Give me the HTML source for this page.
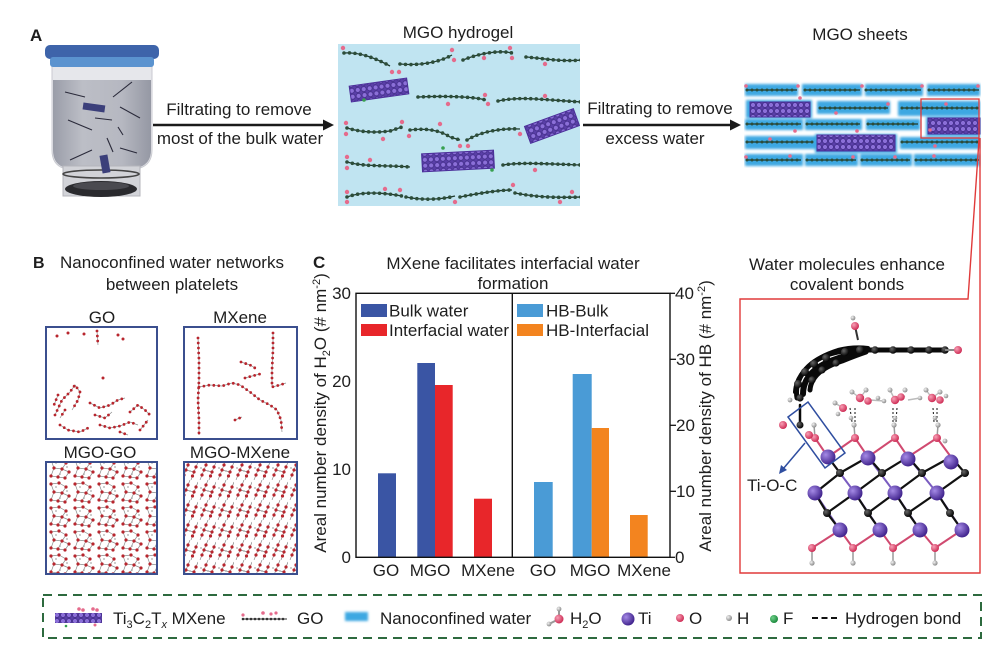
<!DOCTYPE html>
<html>
<head>
<meta charset="utf-8">
<style>
  html,body{margin:0;padding:0;background:#fff;}
  svg{display:block;}
  text{font-family:"Liberation Sans",Arial,sans-serif;fill:#1e1e1e;}
  .t17{font-size:17px;}
  .lbl{font-size:16px;font-weight:bold;}
  .bond{fill:none;stroke:#1f3a2c;stroke-width:1.3;}
  .bead{fill:none;stroke:#2c4d3a;stroke-width:3.6;stroke-linecap:round;stroke-dasharray:0 5.5;}
  .po{fill:#e56b8c;}
  .rb{fill:none;stroke:#8c8c8c;stroke-width:0.7;}
  .rd{fill:none;stroke:#b8262e;stroke-width:2.8;stroke-linecap:round;stroke-dasharray:0 5;}
</style>
</head>
<body>
<svg width="998" height="651" viewBox="0 0 998 651" xmlns="http://www.w3.org/2000/svg">
<defs>
  <pattern id="mx" width="6" height="6" patternUnits="userSpaceOnUse">
    <rect width="6" height="6" fill="#5a3fa8"/>
    <circle cx="3" cy="3" r="2.5" fill="#8b6fd8" stroke="#3f2a85" stroke-width="0.7"/>
  </pattern>
  <pattern id="net1" width="24" height="24" patternUnits="userSpaceOnUse">
    <path d="M3,4 L11,3 L18,7 M3,4 L6,12 L14,13 L18,7 M14,13 L21,16 M6,12 L3,20 L10,21 L17,22 L21,16 M14,13 L10,21" stroke="#8a8a8a" stroke-width="0.7" fill="none"/>
    <g fill="#b8262e">
      <circle cx="3" cy="4" r="1.6"/><circle cx="11" cy="3" r="1.6"/><circle cx="18" cy="7" r="1.6"/>
      <circle cx="6" cy="12" r="1.6"/><circle cx="14" cy="13" r="1.6"/><circle cx="21" cy="16" r="1.6"/>
      <circle cx="3" cy="20" r="1.6"/><circle cx="10" cy="21" r="1.6"/><circle cx="17" cy="22" r="1.6"/>
    </g>
    <g fill="#aaa"><circle cx="8" cy="7" r="0.9"/><circle cx="19" cy="11" r="0.9"/><circle cx="12" cy="18" r="0.9"/></g>
  </pattern>
  <pattern id="net2" width="18" height="20" patternUnits="userSpaceOnUse">
    <path d="M2,20 L6,10 L10,0 M11,20 L14,12 L18,2 M6,10 L14,12" stroke="#8a8a8a" stroke-width="0.7" fill="none"/>
    <g fill="#b8262e">
      <circle cx="4" cy="15" r="1.6"/><circle cx="6" cy="10" r="1.6"/><circle cx="8" cy="5" r="1.6"/>
      <circle cx="12.5" cy="16" r="1.6"/><circle cx="14" cy="12" r="1.6"/><circle cx="16" cy="7" r="1.6"/>
    </g>
    <g fill="#aaa"><circle cx="10" cy="11" r="0.9"/><circle cx="3" cy="8" r="0.9"/></g>
  </pattern>
  <filter id="glow" x="-10%" y="-30%" width="120%" height="160%"><feGaussianBlur stdDeviation="1.3"/></filter>
  <radialGradient id="gTi" cx="35%" cy="35%" r="65%"><stop offset="0" stop-color="#a58ae6"/><stop offset="1" stop-color="#43268f"/></radialGradient>
  <radialGradient id="gO" cx="35%" cy="35%" r="65%"><stop offset="0" stop-color="#f7a0b6"/><stop offset="1" stop-color="#cf2f57"/></radialGradient>
  <radialGradient id="gH" cx="35%" cy="35%" r="65%"><stop offset="0" stop-color="#f2f2f2"/><stop offset="1" stop-color="#8d8d8d"/></radialGradient>
  <radialGradient id="gC" cx="35%" cy="35%" r="65%"><stop offset="0" stop-color="#666"/><stop offset="1" stop-color="#050505"/></radialGradient>
  <radialGradient id="gF" cx="35%" cy="35%" r="65%"><stop offset="0" stop-color="#6fd08a"/><stop offset="1" stop-color="#1d8a3e"/></radialGradient>
  <linearGradient id="liq" x1="0" x2="1" y1="0" y2="0">
    <stop offset="0" stop-color="#9a9da8"/><stop offset="0.3" stop-color="#bcbec6"/><stop offset="0.7" stop-color="#b6b8c1"/><stop offset="1" stop-color="#9598a4"/>
  </linearGradient>
  <clipPath id="hgClip"><rect x="338" y="44" width="242" height="162"/></clipPath>
  <clipPath id="shClip"><rect x="744" y="80" width="237" height="88"/></clipPath>
</defs>

<!-- ================= PANEL A ================= -->
<text class="lbl" x="30" y="41" style="font-size:17px">A</text>

<!-- beaker -->
<g>
  <path d="M52,66 L152,66 L152,150 Q152,164 140,168 L63,168 Q52,164 52,150 Z" fill="#e6e7eb" stroke="#c9cad0" stroke-width="1"/>
  <path d="M53,80 L151,80 L151,150 Q151,163 140,167 L63,167 Q53,163 53,150 Z" fill="url(#liq)"/>
  <rect x="63" y="166" width="77" height="30" fill="#d2d3d8" stroke="#b4b5bb" stroke-width="1"/>
  <ellipse cx="101" cy="174" rx="38" ry="4" fill="none" stroke="#444" stroke-width="1.6"/>
  <ellipse cx="101" cy="189" rx="36" ry="8" fill="#2a2a2e"/>
  <ellipse cx="101" cy="186" rx="28" ry="4" fill="#4a4a50"/>
  <rect x="45" y="45" width="114" height="14" rx="5" fill="#3e64aa"/>
  <rect x="50" y="57" width="104" height="10" rx="3" fill="#5b93cf"/>
  <g stroke="#2a2a3a" stroke-width="1.1" fill="none">
    <path d="M65,92 L85,97"/><path d="M113,97 L132,82"/><path d="M95,118 L112,120"/>
    <path d="M120,107 L140,118"/><path d="M68,120 L92,130"/><path d="M118,127 L123,135"/>
    <path d="M107,138 L113,152"/><path d="M120,148 L137,153"/><path d="M70,160 L92,150"/>
  </g>
  <rect x="83" y="104" width="22" height="7" fill="#3b3f7a" transform="rotate(8 94 107)"/>
  <rect x="101" y="155" width="8" height="18" fill="#3b3f7a" transform="rotate(-10 105 164)"/>
</g>

<!-- arrow 1 -->
<line x1="153" y1="125" x2="326" y2="125" stroke="#1a1a1a" stroke-width="2.5"/>
<path d="M323,119.5 L334,125 L323,130.5 Z" fill="#1a1a1a"/>
<text class="t17" x="239" y="115" text-anchor="middle">Filtrating to remove</text>
<text class="t17" x="240" y="144" text-anchor="middle">most of the bulk water</text>

<!-- hydrogel -->
<text class="t17" x="458" y="38" text-anchor="middle">MGO hydrogel</text>
<rect x="338" y="44" width="242" height="162" fill="#c0e4f1"/>
<g clip-path="url(#hgClip)">
  <g>
    <path class="bond" d="M344,53 C360,52 375,58 390,66"/><path class="bead" d="M344,53 C360,52 375,58 390,66"/>
    <path class="bond" d="M400,64 C420,66 440,62 452,55"/><path class="bead" d="M400,64 C420,66 440,62 452,55"/>
    <path class="bond" d="M463,60 C480,53 500,50 512,53"/><path class="bead" d="M463,60 C480,53 500,50 512,53"/>
    <path class="bond" d="M526,57 C540,58 560,62 582,60"/><path class="bead" d="M526,57 C540,58 560,62 582,60"/>
    <path class="bond" d="M418,97 C440,96 470,96 486,100"/><path class="bead" d="M418,97 C440,96 470,96 486,100"/>
    <path class="bond" d="M498,101 C520,96 545,100 582,102"/><path class="bead" d="M498,101 C520,96 545,100 582,102"/>
    <path class="bond" d="M347,128 C360,132 375,133 390,131 L402,127"/><path class="bead" d="M347,128 C360,132 375,133 390,131 L402,127"/>
    <path class="bond" d="M410,130 C425,128 440,130 450,137 L460,140"/><path class="bead" d="M410,130 C425,128 440,130 450,137 L460,140"/>
    <path class="bond" d="M467,140 C480,132 500,128 520,129"/><path class="bead" d="M467,140 C480,132 500,128 520,129"/>
    <path class="bond" d="M347,162 C365,167 385,165 410,167"/><path class="bead" d="M347,162 C365,167 385,165 410,167"/>
    <path class="bond" d="M503,165 C520,162 550,164 582,165"/><path class="bead" d="M503,165 C520,162 550,164 582,165"/>
    <path class="bond" d="M347,197 C360,192 380,192 402,196"/><path class="bead" d="M347,197 C360,192 380,192 402,196"/>
    <path class="bond" d="M406,197 C420,200 440,200 455,196"/><path class="bead" d="M406,197 C420,200 440,200 455,196"/>
    <path class="bond" d="M460,197 C480,193 500,190 512,190"/><path class="bead" d="M460,197 C480,193 500,190 512,190"/>
    <path class="bond" d="M515,193 C535,197 555,198 582,197"/><path class="bead" d="M515,193 C535,197 555,198 582,197"/>
  </g>
  <g class="po">
    <circle cx="343" cy="48" r="2.2"/><circle cx="392" cy="72" r="2.2"/><circle cx="399" cy="72" r="2.2"/>
    <circle cx="452" cy="50" r="2.2"/><circle cx="454" cy="60" r="2.2"/><circle cx="484" cy="58" r="2.2"/>
    <circle cx="510" cy="48" r="2.2"/><circle cx="512" cy="58" r="2.2"/><circle cx="545" cy="64" r="2.2"/>
    <circle cx="485" cy="95" r="2.2"/><circle cx="488" cy="104" r="2.2"/><circle cx="448" cy="104" r="2.2"/>
    <circle cx="545" cy="96" r="2.2"/><circle cx="346" cy="123" r="2.2"/><circle cx="346" cy="134" r="2.2"/>
    <circle cx="383" cy="139" r="2.2"/><circle cx="402" cy="122" r="2.2"/><circle cx="409" cy="136" r="2.2"/>
    <circle cx="440" cy="124" r="2.2"/><circle cx="460" cy="146" r="2.2"/><circle cx="468" cy="146" r="2.2"/>
    <circle cx="520" cy="134" r="2.2"/><circle cx="347" cy="157" r="2.2"/><circle cx="347" cy="168" r="2.2"/>
    <circle cx="370" cy="160" r="2.2"/><circle cx="535" cy="170" r="2.2"/><circle cx="347" cy="192" r="2.2"/>
    <circle cx="347" cy="202" r="2.2"/><circle cx="385" cy="189" r="2.2"/><circle cx="400" cy="190" r="2.2"/>
    <circle cx="455" cy="202" r="2.2"/><circle cx="513" cy="185" r="2.2"/><circle cx="560" cy="202" r="2.2"/>
    <circle cx="572" cy="192" r="2.2"/>
  </g>
  <g transform="translate(379,90) rotate(-8)"><rect x="-29" y="-8" width="58" height="16" fill="url(#mx)" stroke="#4b2f99" stroke-width="1"/></g>
  <g transform="translate(552,126) rotate(-20)"><rect x="-26" y="-9" width="52" height="18" fill="url(#mx)" stroke="#4b2f99" stroke-width="1"/></g>
  <g transform="translate(458,161) rotate(-3)"><rect x="-36" y="-9" width="72" height="18" fill="url(#mx)" stroke="#4b2f99" stroke-width="1"/></g>
  <circle cx="364" cy="100" r="1.8" fill="#38a050"/><circle cx="443" cy="148" r="1.8" fill="#38a050"/><circle cx="492" cy="170" r="1.8" fill="#38a050"/>
</g>

<!-- arrow 2 -->
<line x1="583" y1="125" x2="733" y2="125" stroke="#1a1a1a" stroke-width="2.5"/>
<path d="M730,119.5 L741,125 L730,130.5 Z" fill="#1a1a1a"/>
<text class="t17" x="660" y="114" text-anchor="middle">Filtrating to remove</text>
<text class="t17" x="655" y="144" text-anchor="middle">excess water</text>

<!-- sheets -->
<text class="t17" x="860" y="40" text-anchor="middle">MGO sheets</text>
<g clip-path="url(#shClip)">
  <g fill="#3ea8e2" filter="url(#glow)">
    <rect x="745" y="84" width="53" height="12"/><rect x="802" y="84" width="60" height="12"/>
    <rect x="865" y="84" width="58" height="12"/><rect x="927" y="84" width="53" height="12"/>
    <rect x="746" y="100" width="66" height="18"/><rect x="817" y="101" width="73" height="13"/>
    <rect x="898" y="101" width="82" height="15"/>
    <rect x="745" y="119" width="58" height="11"/><rect x="805" y="119" width="57" height="11"/>
    <rect x="866" y="119" width="54" height="11"/><rect x="926" y="117" width="54" height="19"/>
    <rect x="745" y="136" width="70" height="13"/><rect x="815" y="134" width="82" height="19"/>
    <rect x="900" y="137" width="80" height="12"/>
    <rect x="745" y="154" width="58" height="12"/><rect x="805" y="154" width="53" height="12"/>
    <rect x="860" y="154" width="52" height="12"/><rect x="914" y="154" width="66" height="12"/>
  </g>
  <g>
    <path class="bond" d="M747,90 L797,90 M805,90 L860,90 M866,90 L921,90 M929,90 L979,90 M820,108 L888,108 M902,108 L979,108 M747,124 L801,124 M807,124 L860,124 M868,124 L918,124 M747,142 L813,142 M902,142 L979,142 M747,160 L801,160 M807,160 L856,160 M862,160 L910,160 M916,160 L979,160"/>
    <path class="bead" style="stroke-width:3;stroke-dasharray:0 5" d="M747,90 L797,90 M805,90 L860,90 M866,90 L921,90 M929,90 L979,90 M820,108 L888,108 M902,108 L979,108 M747,124 L801,124 M807,124 L860,124 M868,124 L918,124 M747,142 L813,142 M902,142 L979,142 M747,160 L801,160 M807,160 L856,160 M862,160 L910,160 M916,160 L979,160"/>
  </g>
  <rect x="750" y="102" width="60" height="15" fill="url(#mx)" stroke="#4b2f99" stroke-width="1"/>
  <rect x="928" y="118" width="52" height="16" fill="url(#mx)" stroke="#4b2f99" stroke-width="1"/>
  <rect x="817" y="135" width="78" height="16" fill="url(#mx)" stroke="#4b2f99" stroke-width="1"/>
  <g class="po">
    <circle cx="746" cy="86" r="1.8"/><circle cx="798" cy="86" r="1.8"/><circle cx="800" cy="98" r="1.8"/>
    <circle cx="862" cy="86" r="1.8"/><circle cx="922" cy="86" r="1.8"/><circle cx="978" cy="86" r="1.8"/>
    <circle cx="888" cy="104" r="1.8"/><circle cx="836" cy="113" r="1.8"/><circle cx="946" cy="104" r="1.8"/>
    <circle cx="795" cy="131" r="1.8"/><circle cx="857" cy="131" r="1.8"/><circle cx="930" cy="130" r="1.8"/>
    <circle cx="770" cy="139" r="1.8"/><circle cx="935" cy="146" r="1.8"/><circle cx="746" cy="157" r="1.8"/>
    <circle cx="790" cy="156" r="1.8"/><circle cx="853" cy="157" r="1.8"/><circle cx="895" cy="157" r="1.8"/>
    <circle cx="934" cy="156" r="1.8"/>
  </g>
</g>
<rect x="921" y="99" width="58" height="39" fill="none" stroke="#e03a3a" stroke-width="1.3"/>

<!-- connector lines -->
<polyline points="979,138 978,155 968,299 740,299 740,573 980,573 980,138" fill="none" stroke="#e03a3a" stroke-width="1.4"/>

<!-- ================= PANEL B ================= -->
<text class="lbl" x="33" y="268">B</text>
<text class="t17" x="172" y="268" text-anchor="middle">Nanoconfined water networks</text>
<text class="t17" x="172" y="290" text-anchor="middle">between platelets</text>
<text class="t17" x="102" y="323" text-anchor="middle">GO</text>
<text class="t17" x="240" y="323" text-anchor="middle">MXene</text>
<text class="t17" x="100" y="458" text-anchor="middle">MGO-GO</text>
<text class="t17" x="240" y="458" text-anchor="middle">MGO-MXene</text>

<!-- GO box -->
<g>
  <rect x="46" y="327" width="111" height="112" fill="#fff"/>
  <g>
    <path class="rb" d="M97,331 L98,345 M55,415 L62,400 L70,392 L75,385 L80,392 L78,400 L72,410 M60,425 L68,430 L80,432 L88,428 M90,403 L100,408 L110,405 L118,400 L125,398 M95,415 L105,418 L112,412 M100,425 L110,428 L120,426 L130,422 L138,425 M120,432 L128,435 M130,412 L138,405 L145,410 L150,415 M140,430 L148,420 M58,395 L54,405 M65,410 L60,418"/>
    <path class="rd" d="M97,331 L98,345 M55,415 L62,400 L70,392 L75,385 L80,392 L78,400 L72,410 M60,425 L68,430 L80,432 L88,428 M90,403 L100,408 L110,405 L118,400 L125,398 M95,415 L105,418 L112,412 M100,425 L110,428 L120,426 L130,422 L138,425 M120,432 L128,435 M130,412 L138,405 L145,410 L150,415 M140,430 L148,420 M58,395 L54,405 M65,410 L60,418"/>
    <g fill="#b8262e"><circle cx="57" cy="336" r="1.5"/><circle cx="68" cy="333" r="1.5"/><circle cx="84" cy="334" r="1.5"/><circle cx="118" cy="335" r="1.5"/><circle cx="123" cy="339" r="1.5"/><circle cx="103" cy="378" r="1.5"/></g>
  </g>
  <rect x="46" y="327" width="111" height="112" fill="none" stroke="#3b4f8e" stroke-width="2"/>
</g>
<!-- MXene box -->
<g>
  <rect x="184" y="327" width="113" height="112" fill="#fff"/>
  <path class="rb" d="M198,338 L199,360 L199,380 L198,400 L199,420 L199,435 M199,387 L210,385 L222,386 L232,383 L240,385 L250,392 L260,400 L270,405 L277,410 L281,420 L282,432 M273,333 L273,350 L272,370 L272,387 L280,385 L286,383 M241,362 L250,365 L255,368 M245,378 L252,376 L260,374 M235,420 L242,417"/>
  <path class="rd" d="M198,338 L199,360 L199,380 L198,400 L199,420 L199,435 M199,387 L210,385 L222,386 L232,383 L240,385 L250,392 L260,400 L270,405 L277,410 L281,420 L282,432 M273,333 L273,350 L272,370 L272,387 L280,385 L286,383 M241,362 L250,365 L255,368 M245,378 L252,376 L260,374 M235,420 L242,417"/>
  <rect x="184" y="327" width="113" height="112" fill="none" stroke="#3b4f8e" stroke-width="2"/>
</g>
<!-- MGO-GO box -->
<rect x="46" y="462" width="111" height="112" fill="url(#net1)" stroke="#3b4f8e" stroke-width="2"/>
<!-- MGO-MXene box -->
<rect x="184" y="462" width="113" height="112" fill="url(#net2)" stroke="#3b4f8e" stroke-width="2"/>

<!-- ================= PANEL C ================= -->
<text class="lbl" x="313" y="268" style="font-size:17px">C</text>
<text class="t17" x="513" y="269" text-anchor="middle">MXene facilitates interfacial water</text>
<text class="t17" x="513" y="289" text-anchor="middle">formation</text>

<!-- bars -->
<rect x="378" y="473.3" width="18" height="84" fill="#3a55a4"/>
<rect x="417.3" y="363" width="17.7" height="194.3" fill="#3a55a4"/>
<rect x="435" y="385" width="17.7" height="172.3" fill="#e8262a"/>
<rect x="474" y="498.7" width="18" height="58.6" fill="#e8262a"/>
<rect x="534" y="482" width="18.7" height="75.3" fill="#4a9bd6"/>
<rect x="572.7" y="374" width="19" height="183.3" fill="#4a9bd6"/>
<rect x="591.7" y="428" width="17.3" height="129.3" fill="#f3841f"/>
<rect x="630" y="515" width="17.7" height="42.3" fill="#f3841f"/>

<!-- axes -->
<rect x="356" y="293.3" width="314" height="264" fill="none" stroke="#111" stroke-width="1.4"/>
<line x1="512.3" y1="293.3" x2="512.3" y2="557.3" stroke="#111" stroke-width="1.4"/>
<g stroke="#111" stroke-width="1.3">
  <line x1="670" y1="359.3" x2="676" y2="359.3"/><line x1="670" y1="425.3" x2="676" y2="425.3"/><line x1="670" y1="491.3" x2="676" y2="491.3"/>
  <line x1="670" y1="293.3" x2="675" y2="293.3"/><line x1="670" y1="557.3" x2="675" y2="557.3"/>
</g>
<text class="t17" x="351" y="299" text-anchor="end">30</text>
<text class="t17" x="351" y="387" text-anchor="end">20</text>
<text class="t17" x="351" y="475" text-anchor="end">10</text>
<text class="t17" x="351" y="563" text-anchor="end">0</text>
<text class="t17" x="675" y="299">40</text>
<text class="t17" x="676" y="365">30</text>
<text class="t17" x="676" y="431">20</text>
<text class="t17" x="676" y="497">10</text>
<text class="t17" x="675" y="563">0</text>

<text class="t17" x="386" y="576" text-anchor="middle">GO</text>
<text class="t17" x="430" y="576" text-anchor="middle">MGO</text>
<text class="t17" x="488" y="576" text-anchor="middle">MXene</text>
<text class="t17" x="543" y="576" text-anchor="middle">GO</text>
<text class="t17" x="590" y="576" text-anchor="middle">MGO</text>
<text class="t17" x="644" y="576" text-anchor="middle">MXene</text>

<!-- legend C -->
<rect x="361" y="304" width="26" height="13" fill="#3a55a4"/>
<rect x="361" y="324" width="26" height="12" fill="#e8262a"/>
<text class="t17" x="389" y="316.5">Bulk water</text>
<text class="t17" x="389" y="336">Interfacial water</text>
<rect x="517" y="304" width="26" height="13" fill="#4a9bd6"/>
<rect x="517" y="324" width="26" height="12" fill="#f3841f"/>
<text class="t17" x="546" y="316.5">HB-Bulk</text>
<text class="t17" x="546" y="336">HB-Interfacial</text>

<!-- axis labels -->
<text class="t17" transform="translate(326,413) rotate(-90)" text-anchor="middle">Areal number density of H<tspan dy="4" font-size="11">2</tspan><tspan dy="-4">O (# nm</tspan><tspan dy="-6" font-size="11">-2</tspan><tspan dy="6">)</tspan></text>
<text class="t17" transform="translate(711,416) rotate(-90)" text-anchor="middle">Areal number density of HB  (# nm<tspan dy="-6" font-size="11">-2</tspan><tspan dy="6">)</tspan></text>

<!-- ================= PANEL D ================= -->
<text class="t17" x="847" y="270" text-anchor="middle">Water molecules enhance</text>
<text class="t17" x="847" y="290" text-anchor="middle">covalent bonds</text>

<g>
  <!-- lattice bonds -->
  <g stroke="#7a5cc0" stroke-width="2" fill="none">
    <path d="M828,457 L855,493 M868,457 L895,493 M908,457 L937,493 M815,493 L840,530 M855,493 L880,530 M895,493 L920,530 M937,493 L962,530"/>
  </g>
  <g stroke="#d04a70" stroke-width="2" fill="none">
    <path d="M815,438 L828,457 M855,438 L828,457 M855,438 L868,457 M895,438 L868,457 M895,438 L908,457 M937,438 L908,457 M937,438 L951,457"/>
    <path d="M812,548 L840,530 M853,548 L840,530 M853,548 L880,530 M893,548 L880,530 M893,548 L920,530 M935,548 L920,530 M935,548 L962,530"/>
  </g>
  <g stroke="#111" stroke-width="2.2" fill="none">
    <path d="M828,457 L840,473 L815,493 M840,473 L868,457 M868,457 L882,473 L855,493 M882,473 L908,457 M908,457 L922,473 L895,493 M922,473 L951,457 M951,457 L965,473 L937,493"/>
    <path d="M815,493 L827,513 L840,530 M827,513 L855,493 M855,493 L868,513 L880,530 M868,513 L895,493 M895,493 L908,513 L920,530 M908,513 L937,493 M937,493 L950,513 L962,530"/>
  </g>
  <g stroke="#9a9a9a" stroke-width="1.5" fill="none">
    <path d="M815,438 L814,425 M855,438 L854,425 M895,438 L894,425 M937,438 L938,425 M812,548 L812,563 M853,548 L853,563 M893,548 L893,563 M935,548 L935,563"/>
  </g>
  <!-- atoms -->
  <g fill="url(#gC)">
    <circle cx="840" cy="473" r="4"/><circle cx="882" cy="473" r="4"/><circle cx="922" cy="473" r="4"/><circle cx="965" cy="473" r="4"/>
    <circle cx="827" cy="513" r="4"/><circle cx="868" cy="513" r="4"/><circle cx="908" cy="513" r="4"/><circle cx="950" cy="513" r="4"/>
  </g>
  <g fill="url(#gTi)">
    <circle cx="828" cy="457" r="7.5"/><circle cx="868" cy="458" r="7.5"/><circle cx="908" cy="459" r="7.5"/><circle cx="951" cy="462" r="7.5"/>
    <circle cx="815" cy="493" r="7.5"/><circle cx="855" cy="493" r="7.5"/><circle cx="895" cy="493" r="7.5"/><circle cx="937" cy="493" r="7.5"/>
    <circle cx="840" cy="530" r="7.5"/><circle cx="880" cy="530" r="7.5"/><circle cx="920" cy="530" r="7.5"/><circle cx="962" cy="530" r="7.5"/>
  </g>
  <g fill="url(#gO)">
    <circle cx="815" cy="438" r="4"/><circle cx="855" cy="438" r="4"/><circle cx="895" cy="438" r="4"/><circle cx="937" cy="438" r="4"/>
    <circle cx="812" cy="548" r="4"/><circle cx="853" cy="548" r="4"/><circle cx="893" cy="548" r="4"/><circle cx="935" cy="548" r="4"/>
  </g>
  <g fill="url(#gH)">
    <circle cx="814" cy="425" r="2.6"/><circle cx="854" cy="425" r="2.6"/><circle cx="894" cy="425" r="2.6"/><circle cx="938" cy="425" r="2.6"/>
    <circle cx="945" cy="441" r="2.4"/>
    <circle cx="812" cy="563" r="2.6"/><circle cx="853" cy="563" r="2.6"/><circle cx="893" cy="563" r="2.6"/><circle cx="935" cy="563" r="2.6"/>
  </g>
  <!-- H-bond dashes -->
  <g stroke="#111" stroke-width="1" stroke-dasharray="2 2" fill="none">
    <path d="M850,408 L852,422 M855,408 L855,422 M893,408 L893,422 M897,408 L896,422 M933,408 L934,422 M937,408 L937,422"/>
  </g>
  <!-- water molecules -->
  <g stroke="#bbb" stroke-width="1.4" fill="none">
    <path d="M843,408 L835,403 M860,398 L866,390 M860,398 L852,392 M895,400 L890,390 M895,400 L905,396 M932,398 L926,390 M932,398 L940,392 M870,400 L884,401 M908,400 L920,398"/>
  </g>
  <g fill="url(#gO)">
    <circle cx="843" cy="408" r="4"/><circle cx="860" cy="398" r="4.2"/><circle cx="868" cy="401" r="3.8"/>
    <circle cx="895" cy="400" r="4.2"/><circle cx="901" cy="397" r="3.8"/><circle cx="932" cy="398" r="4.2"/><circle cx="940" cy="400" r="3.8"/>
  </g>
  <g fill="url(#gH)">
    <circle cx="835" cy="403" r="2.5"/><circle cx="866" cy="390" r="2.5"/><circle cx="852" cy="392" r="2.5"/><circle cx="838" cy="414" r="2.3"/>
    <circle cx="890" cy="390" r="2.5"/><circle cx="905" cy="390" r="2.5"/><circle cx="884" cy="401" r="2.3"/><circle cx="878" cy="398" r="2.3"/>
    <circle cx="926" cy="390" r="2.5"/><circle cx="940" cy="392" r="2.5"/><circle cx="946" cy="396" r="2.3"/><circle cx="920" cy="398" r="2.3"/>
    <circle cx="851" cy="418" r="2.3"/><circle cx="895" cy="418" r="2.3"/><circle cx="935" cy="418" r="2.3"/>
  </g>
  <!-- GO ribbon -->
  <g fill="none" stroke="#0a0a0a" stroke-linecap="round">
    <path d="M797,398 C794,380 806,362 830,354 C846,349 858,350 872,350 L945,350" stroke-width="5"/>
    <path d="M803,394 C803,378 815,366 836,359 C850,354 858,352 866,351" stroke-width="6"/>
    <path d="M810,390 C811,376 823,367 842,361 C852,357 860,354 866,352" stroke-width="5"/>
    <path d="M795,392 C796,374 812,358 838,350 C850,347 860,347 868,348" stroke-width="4"/>
    <path d="M800,405 L800,425" stroke-width="2.5"/>
  </g>
  <g fill="url(#gC)">
    <circle cx="875" cy="350" r="3.8"/><circle cx="893" cy="350" r="3.8"/><circle cx="911" cy="350" r="3.8"/><circle cx="929" cy="350" r="3.8"/><circle cx="945" cy="350" r="3.8"/>
    <circle cx="798" cy="384" r="4"/><circle cx="805" cy="372" r="4"/><circle cx="814" cy="364" r="4"/><circle cx="826" cy="358" r="4"/><circle cx="845" cy="352" r="4"/><circle cx="860" cy="350" r="4"/>
    <circle cx="812" cy="380" r="3.6"/><circle cx="822" cy="370" r="3.6"/><circle cx="836" cy="363" r="3.6"/>
    <circle cx="800" cy="398" r="3.6"/><circle cx="800" cy="425" r="3.5"/>
  </g>
  <line x1="956" y1="350" x2="945" y2="350" stroke="#888" stroke-width="2"/>
  <circle cx="958" cy="350" r="4" fill="url(#gO)"/>
  <line x1="858" y1="340" x2="855" y2="326" stroke="#333" stroke-width="2"/>
  <circle cx="855" cy="326" r="4" fill="url(#gO)"/>
  <circle cx="853" cy="318" r="2.4" fill="url(#gH)"/>
  <circle cx="783" cy="425" r="4" fill="url(#gO)"/>
  <circle cx="809" cy="435" r="4" fill="url(#gO)"/>
  <circle cx="790" cy="400" r="2.4" fill="url(#gH)"/>
  <!-- blue box & arrow -->
  <polygon points="788,417 808,402 845,453 825,468" fill="none" stroke="#2f4ea0" stroke-width="1.5"/>
  <line x1="805" y1="443" x2="783" y2="469" stroke="#2f4ea0" stroke-width="1.5"/>
  <path d="M779,474 L781,465 L787,470 Z" fill="#2f4ea0"/>
  <text class="t17" x="747" y="491">Ti-O-C</text>
</g>

<!-- ================= LEGEND ================= -->
<rect x="43" y="595" width="938" height="43" fill="none" stroke="#2d6a3e" stroke-width="2" stroke-dasharray="9 6"/>
<!-- MXene icon -->
<rect x="55" y="613" width="47" height="10" fill="url(#mx)"/>
<g class="po"><circle cx="79" cy="609" r="1.8"/><circle cx="83" cy="610" r="1.8"/><circle cx="93" cy="609" r="1.8"/><circle cx="97" cy="610" r="1.8"/><circle cx="95" cy="625" r="1.5"/></g>
<circle cx="66" cy="626" r="1.3" fill="#38a050"/>
<text class="t17" x="113" y="624">Ti<tspan dy="4" font-size="11">3</tspan><tspan dy="-4">C</tspan><tspan dy="4" font-size="11">2</tspan><tspan dy="-4">T</tspan><tspan dy="4" font-size="11" font-style="italic">x</tspan><tspan dy="-4"> MXene</tspan></text>
<!-- GO icon -->
<path d="M242,619 L287,619" stroke="#333" stroke-width="1"/>
<path d="M243,619 L287,619" stroke="#333" stroke-width="2.6" stroke-linecap="round" stroke-dasharray="0 4"/>
<g class="po"><circle cx="243" cy="615" r="1.6"/><circle cx="263" cy="613" r="1.8"/><circle cx="271" cy="614" r="1.6"/><circle cx="276" cy="613" r="1.6"/></g>
<text class="t17" x="297" y="624">GO</text>
<!-- Nanoconfined water -->
<rect x="345" y="612" width="23" height="9" fill="#3ea8e2" filter="url(#glow)"/>
<text class="t17" x="380" y="624">Nanoconfined water</text>
<!-- H2O -->
<path d="M559,619 L559,610 M559,619 L549,624" stroke="#999" stroke-width="2"/>
<circle cx="559" cy="609" r="2.4" fill="url(#gH)"/>
<circle cx="549" cy="624" r="2.4" fill="url(#gH)"/>
<circle cx="559" cy="619" r="4.5" fill="url(#gO)"/>
<text class="t17" x="570" y="624">H<tspan dy="4" font-size="11">2</tspan><tspan dy="-4">O</tspan></text>
<!-- Ti -->
<circle cx="628" cy="619" r="6.5" fill="url(#gTi)"/>
<text class="t17" x="638" y="624">Ti</text>
<!-- O -->
<circle cx="680" cy="618" r="4" fill="url(#gO)"/>
<text class="t17" x="689" y="624">O</text>
<!-- H -->
<circle cx="729" cy="618" r="3" fill="url(#gH)"/>
<text class="t17" x="737" y="624">H</text>
<!-- F -->
<circle cx="774" cy="619" r="4" fill="url(#gF)"/>
<text class="t17" x="783" y="624">F</text>
<!-- H bond -->
<line x1="812" y1="618" x2="840" y2="618" stroke="#111" stroke-width="2" stroke-dasharray="6 3.5"/>
<text class="t17" x="845" y="624">Hydrogen bond</text>
</svg>
</body>
</html>
